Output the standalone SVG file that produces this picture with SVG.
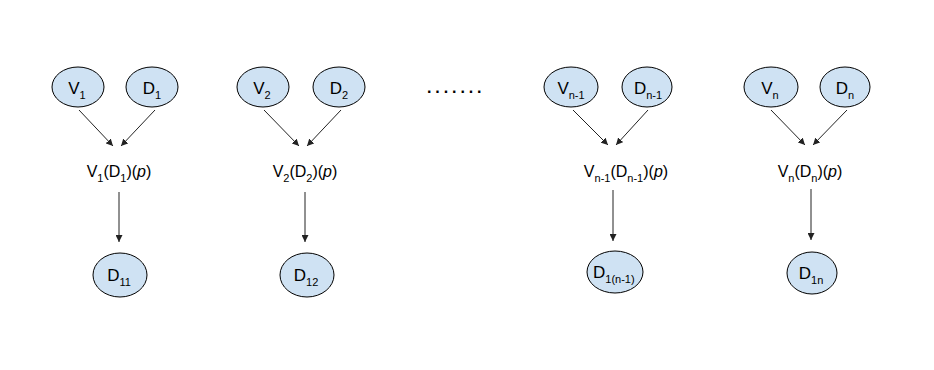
<svg xmlns="http://www.w3.org/2000/svg" width="934" height="370" viewBox="0 0 934 370">
<style>
.n{fill:#cfe2f3;stroke:#000;stroke-width:1}
.t{font-family:"Liberation Sans",Arial,sans-serif;font-size:17px;fill:#000}
.l{font-family:"Liberation Sans",Arial,sans-serif;font-size:16px;fill:#000}
.s{font-size:11px}
.e line{stroke:#222;stroke-width:1;marker-end:url(#a)}
</style>
<defs>
<marker id="a" viewBox="0 0 10 10" refX="10" refY="5" markerWidth="7" markerHeight="7" markerUnits="userSpaceOnUse" orient="auto">
<path d="M0,0 L10,5 L0,10 z" fill="#222"/>
</marker>
</defs>
<rect width="934" height="370" fill="#fff"/>
<g class="e" id="connectors">
<line x1="79" y1="110" x2="113" y2="146"/>
<line x1="155" y1="110" x2="121" y2="146"/>
<line x1="119" y1="192" x2="119" y2="242"/>
<line x1="264" y1="110" x2="299" y2="146"/>
<line x1="341" y1="110" x2="307" y2="146"/>
<line x1="305" y1="192" x2="305" y2="242"/>
<line x1="573" y1="110" x2="608" y2="145"/>
<line x1="648" y1="110" x2="616" y2="145"/>
<line x1="613" y1="190" x2="613" y2="241"/>
<line x1="771" y1="110" x2="805" y2="145"/>
<line x1="847" y1="110" x2="813" y2="145"/>
<line x1="811" y1="189" x2="811" y2="240"/>
</g>
<g id="V1"><ellipse class="n" cx="78" cy="87" rx="26" ry="20"/><text class="t" x="77" y="94" text-anchor="middle">V<tspan class="s" dy="5">1</tspan></text></g>
<g id="D1"><ellipse class="n" cx="152" cy="87" rx="26" ry="20"/><text class="t" x="152" y="94" text-anchor="middle">D<tspan class="s" dy="5">1</tspan></text></g>
<g id="V1D1p"><text class="l" x="119" y="177" text-anchor="middle">V<tspan class="s" dy="5">1</tspan><tspan dy="-5">(D</tspan><tspan class="s" dy="5">1</tspan><tspan dy="-5">)(</tspan><tspan font-style="italic">p</tspan>)</text></g>
<g id="D11"><ellipse class="n" cx="120" cy="275" rx="27" ry="22"/><text class="t" x="119" y="281" text-anchor="middle">D<tspan class="s" dy="5">11</tspan></text></g>

<g id="V2"><ellipse class="n" cx="263" cy="87" rx="26" ry="20"/><text class="t" x="262" y="94" text-anchor="middle">V<tspan class="s" dy="5">2</tspan></text></g>
<g id="D2"><ellipse class="n" cx="339" cy="87" rx="26" ry="20"/><text class="t" x="339" y="94" text-anchor="middle">D<tspan class="s" dy="5">2</tspan></text></g>
<g id="V2D2p"><text class="l" x="305" y="177" text-anchor="middle">V<tspan class="s" dy="5">2</tspan><tspan dy="-5">(D</tspan><tspan class="s" dy="5">2</tspan><tspan dy="-5">)(</tspan><tspan font-style="italic">p</tspan>)</text></g>
<g id="D12"><ellipse class="n" cx="307" cy="275" rx="27" ry="22"/><text class="t" x="306" y="281" text-anchor="middle">D<tspan class="s" dy="5">12</tspan></text></g>

<g id="dots"><text class="l" x="427" y="93" font-size="22" font-weight="bold" letter-spacing="3.9">.......</text></g>

<g id="Vn1"><ellipse class="n" cx="571" cy="87" rx="27" ry="20"/><text class="t" x="571" y="94" text-anchor="middle">V<tspan class="s" dy="5">n-1</tspan></text></g>
<g id="Dn1"><ellipse class="n" cx="647" cy="87" rx="25" ry="20"/><text class="t" x="648" y="94" text-anchor="middle">D<tspan class="s" dy="5">n-1</tspan></text></g>
<g id="Vn1Dn1p"><text class="l" x="626" y="177" text-anchor="middle">V<tspan class="s" dy="5">n-1</tspan><tspan dy="-5">(D</tspan><tspan class="s" dy="5">n-1</tspan><tspan dy="-5">)(</tspan><tspan font-style="italic">p</tspan>)</text></g>
<g id="D1n1"><ellipse class="n" cx="615" cy="272" rx="28" ry="21"/><text class="t" x="593" y="278">D<tspan class="s" dy="5">1(n-1)</tspan></text></g>

<g id="Vn"><ellipse class="n" cx="771" cy="87" rx="27" ry="20"/><text class="t" x="770" y="94" text-anchor="middle">V<tspan class="s" dy="5">n</tspan></text></g>
<g id="Dn"><ellipse class="n" cx="845" cy="87" rx="25" ry="20"/><text class="t" x="845" y="94" text-anchor="middle">D<tspan class="s" dy="5">n</tspan></text></g>
<g id="VnDnp"><text class="l" x="810" y="177" text-anchor="middle">V<tspan class="s" dy="5">n</tspan><tspan dy="-5">(D</tspan><tspan class="s" dy="5">n</tspan><tspan dy="-5">)(</tspan><tspan font-style="italic">p</tspan>)</text></g>
<g id="D1n"><ellipse class="n" cx="812" cy="273" rx="25" ry="21"/><text class="t" x="811" y="279" text-anchor="middle">D<tspan class="s" dy="5">1n</tspan></text></g>
</svg>
